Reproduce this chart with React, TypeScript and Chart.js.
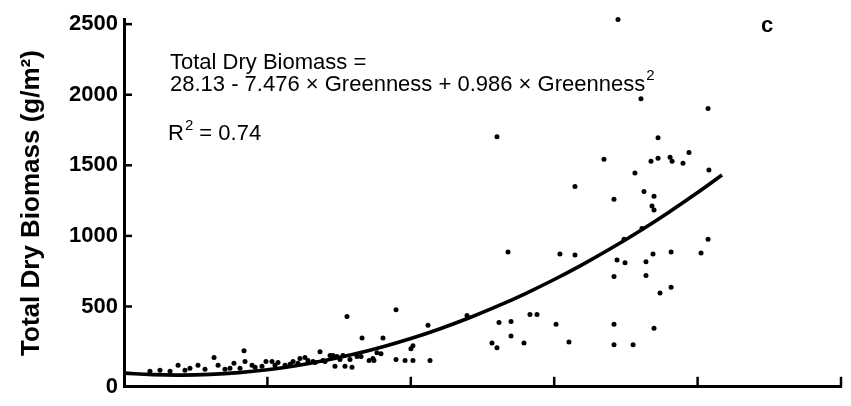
import React, { useEffect, useRef } from "react";
import { Chart, registerables } from "chart.js";

Chart.register(...registerables);

const pointsX = [
  3.77, 5.16, 6.28, 6.56, 7.67, 8.37, 8.44, 8.93, 9.9, 10.32, 10.74, 11.79, 12.27, 12.62, 12.83, 13.18,
  13.67, 13.88, 14.37, 14.57, 14.85, 15.27, 14.71, 15.41, 15.9, 15.55, 16.53, 17.09, 16.6, 18.06, 17.43,
  17.92, 18.97, 18.97, 19.6, 20.15, 20.01, 20.15, 21.34, 21.2, 23.92, 26.15, 26.99, 28.31, 28.8, 30.13,
  25.66, 26.01, 26.99, 27.89, 31.03, 34.17, 34.17, 35.5, 26.78, 30.4, 31.45, 34.38, 34.94, 36.4, 34.17,
  36.4, 26.01, 33.47, 31.45, 34.17, 34.45, 36.05, 37.24, 36.75, 37.24, 38.08, 38.22, 38.98, 39.4, 40.79,
  35.63, 36.26, 36.96, 36.82, 36.96, 40.73, 40.24, 38.15, 36.89, 37.38, 38.15, 36.96, 34.87, 36.12, 40.73,
  1.81, 2.51, 3.21, 4.25, 4.6, 5.65, 7.04, 8.09, 9.14, 9.62, 11.23, 11.58, 12.13, 13.32, 14.02, 15.06,
  15.76, 16.25, 7.39, 10.53, 17.36, 17.64,
];
const pointsY = [
  83, 83, 138, 83, 97, 187, 111, 83, 111, 111, 104, 111, 131, 138, 118, 111,
  180, 118, 152, 152, 145, 152, 76, 76, 69, 429, 145, 118, 277, 277, 118,
  166, 477, 125, 118, 118, 201, 221, 118, 367, 436, 387, 394, 443, 443, 374,
  242, 208, 291, 242, 249, 374, 228, 228, 886, 872, 865, 830, 810, 817, 713,
  720, 1702, 1543, 1349, 1259, 2533, 1972, 1695, 1529, 1550, 1557, 1529, 1515, 1591, 1467,
  1446, 1315, 1280, 1211, 1183, 976, 879, 886, 872, 595, 637, 346, 976, 1052, 1903,
  42, 48, 42, 48, 62, 55, 55, 62, 69, 76, 83, 90, 97, 104, 111, 125,
  125, 145, 62, 83, 131, 173,
];

// fitted regression curve
const curveX = [0, 2, 4, 6, 8, 10, 12, 14, 16, 18, 20, 22, 24, 26, 28, 30, 32, 34, 36, 38, 40, 41.7];
const curveY = [
  28.1, 17.1, 14.0, 18.8, 31.4, 52.0, 80.4, 116.7, 160.9, 213.0, 273.0, 340.9, 416.6, 500.3, 591.8,
  691.1, 798.6, 913.8, 1036.9, 1167.8, 1306.7, 1430.9,
];

const xTicks = [0, 10, 20, 30, 40, 50];
const yTickValues = [-69, 500, 1000, 1500, 2000, 2500];
const yTickLabels = ["0", "500", "1000", "1500", "2000", "2500"];

const yTitle = "Total Dry Biomass (g/m²)";
const eqLine1 = "Total Dry Biomass =";
const eqLine2 = "28.13 - 7.476 × Greenness + 0.986 × Greenness";
const r2Label = "R";
const r2Value = " = 0.74";
const panelLetter = "c";

const FONT = '"Liberation Sans", Arial, Helvetica, sans-serif';

const decorPlugin = {
  id: "decor",
  afterDraw(chart: any) {
    const { ctx, scales } = chart;
    const xs = scales.x;
    const ys = scales.y;
    const area = chart.chartArea;
    ctx.save();
    ctx.strokeStyle = "#000";
    ctx.lineWidth = 2.5;
    ctx.lineCap = "butt";
    // inward y ticks
    yTickValues.forEach((v) => {
      if (v <= 0) return;
      const py = ys.getPixelForValue(v);
      ctx.beginPath();
      ctx.moveTo(area.left, py);
      ctx.lineTo(area.left + 8, py);
      ctx.stroke();
    });
    // inward x ticks
    xTicks.forEach((v) => {
      if (v <= 0) return;
      const px = xs.getPixelForValue(v);
      ctx.beginPath();
      ctx.moveTo(px, area.bottom);
      ctx.lineTo(px, area.bottom - 10);
      ctx.stroke();
    });

    // equation text
    ctx.fillStyle = "#000";
    ctx.textAlign = "left";
    ctx.textBaseline = "alphabetic";
    ctx.font = `22px ${FONT}`;
    ctx.fillText(eqLine1, 170, 69);
    ctx.fillText(eqLine2, 170, 91);
    const w2 = ctx.measureText(eqLine2).width;
    ctx.font = `15px ${FONT}`;
    ctx.fillText("2", 170 + w2 + 1, 80);

    ctx.font = `22px ${FONT}`;
    ctx.fillText(r2Label, 168, 140);
    const wr = ctx.measureText(r2Label).width;
    ctx.font = `15px ${FONT}`;
    ctx.fillText("2", 168 + wr + 1, 130);
    const w2s = ctx.measureText("2").width;
    ctx.font = `22px ${FONT}`;
    ctx.fillText(r2Value, 168 + wr + w2s + 1, 140);

    ctx.font = `bold 22px ${FONT}`;
    ctx.fillText(panelLetter, 761, 32);
    ctx.restore();
  },
};

export default function App() {
  const ref = useRef<HTMLCanvasElement | null>(null);

  useEffect(() => {
    if (!ref.current) return;
    const scatter = pointsX.map((x, i) => ({ x, y: pointsY[i] }));
    const curve = curveX.map((x, i) => ({ x, y: curveY[i] }));
    const chart = new Chart(ref.current, {
      type: "scatter",
      data: {
        datasets: [
          {
            type: "line",
            data: curve,
            borderColor: "#000",
            borderWidth: 3.6,
            pointRadius: 0,
            tension: 0.4,
            fill: false,
            order: 1,
          } as any,
          {
            type: "scatter",
            data: scatter,
            backgroundColor: "#000",
            borderColor: "#000",
            borderWidth: 0,
            pointRadius: 2.5,
            clip: false,
            order: 2,
          } as any,
        ],
      },
      options: {
        responsive: false,
        animation: false,
        devicePixelRatio: 1,
        layout: { padding: { top: 18, right: 10, bottom: 12, left: 0 } },
        plugins: {
          legend: { display: false },
          tooltip: { enabled: false },
        },
        scales: {
          x: {
            type: "linear",
            min: 0,
            max: 50,
            grid: { display: false },
            border: { display: true, width: 3, color: "#000" },
            ticks: { display: false },
            afterBuildTicks: (scale: any) => {
              scale.ticks = xTicks.map((v) => ({ value: v }));
            },
            afterFit: (scale: any) => {
              scale.height = 0;
            },
          },
          y: {
            type: "linear",
            min: -69,
            max: 2535,
            grid: { display: false, drawTicks: false },
            border: { display: true, width: 3, color: "#000" },
            ticks: {
              color: "#000",
              padding: 6,
              font: { family: FONT, size: 22, weight: "bold" },
              callback: (_v: any, i: number) => yTickLabels[i],
            },
            afterBuildTicks: (scale: any) => {
              scale.ticks = yTickValues.map((v) => ({ value: v }));
            },
            afterFit: (scale: any) => {
              scale.width = 124;
            },
            title: {
              display: true,
              text: yTitle,
              color: "#000",
              font: { family: FONT, size: 26, weight: "bold" },
              padding: { top: 16, bottom: 0 },
            },
          },
        },
      },
      plugins: [decorPlugin],
    });
    return () => chart.destroy();
  }, []);

  return (
    <div style={{ position: "absolute", left: 0, top: 0, width: 851, height: 406, background: "#fff" }}>
      <canvas ref={ref} width={851} height={406} style={{ display: "block" }} />
    </div>
  );
}
